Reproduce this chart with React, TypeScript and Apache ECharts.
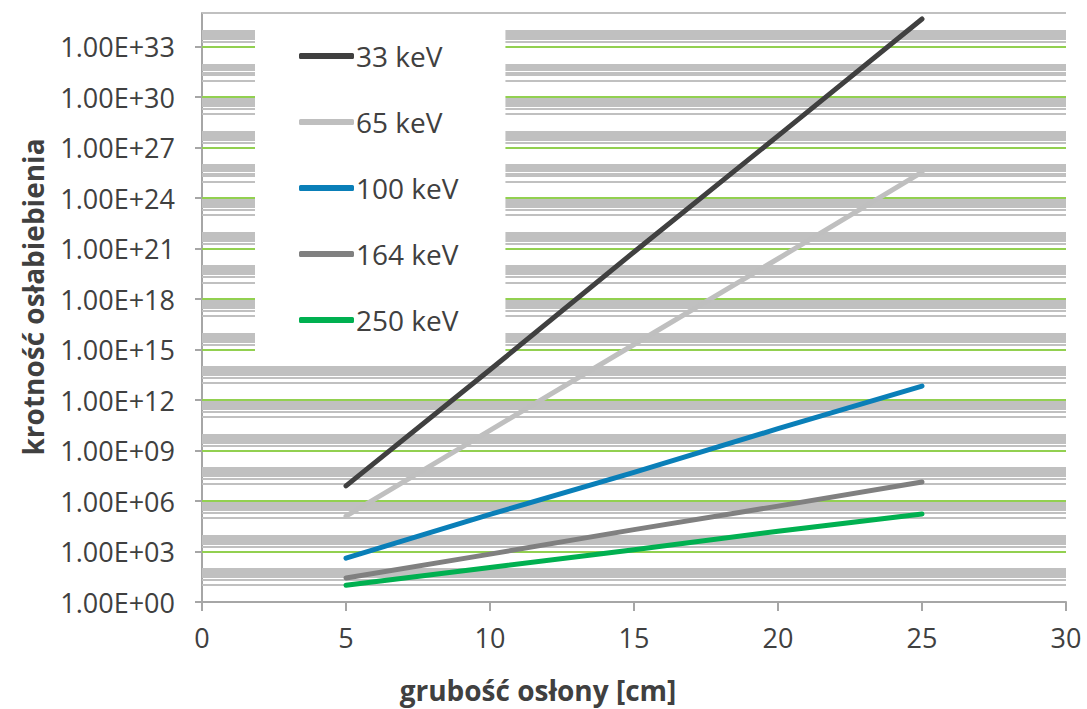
import React, { useEffect, useRef } from "react";
import * as echarts from "echarts";

// ---- data ----
const X_THICKNESS = [5, 10, 15, 20, 25];
const SERIES_NAMES = ["33 keV", "65 keV", "100 keV", "164 keV", "250 keV"];
const KEV_33 = [7.9e6, 6.3e13, 6.3e20, 5.0e27, 4.4e34];
const KEV_65 = [1.26e5, 1.6e10, 2.0e15, 2.5e20, 3.5e25];
const KEV_100 = [400, 1.6e5, 5.0e7, 2.0e10, 6.8e12];
const KEV_164 = [27, 700, 2.0e4, 5.0e5, 1.35e7];
const KEV_250 = [10, 112, 1.26e3, 1.6e4, 1.7e5];
const SERIES_VALUES = [KEV_33, KEV_65, KEV_100, KEV_164, KEV_250];
const SERIES_COLORS = ["#404040", "#bfbfbf", "#0a7fb8", "#808080", "#00b050"];

// axis / gridline definitions
const Y_MIN = 1;
const Y_MAX = 1e35;
const MAJOR_EXPONENTS = [0, 3, 6, 9, 12, 15, 18, 21, 24, 27, 30, 33];
const MINOR_EXPONENTS = [1, 3, 5, 7, 9, 11, 13, 15, 17, 19, 21, 23, 25, 27, 29, 31, 33, 35];
const MINOR_MULTIPLIERS = [1, 2, 3, 4, 5, 6, 7, 8, 9];

const FONT = "'Open Sans', 'Noto Sans', sans-serif";
const TEXT_COLOR = "#404040";
const AXIS_COLOR = "#a6a6a6";

export default function App() {
  const ref = useRef<HTMLDivElement>(null);

  useEffect(() => {
    if (!ref.current) return;
    const chart = echarts.init(ref.current, undefined, { renderer: "svg" });

    const minorLines: any[] = [];
    MINOR_EXPONENTS.forEach((e) => {
      MINOR_MULTIPLIERS.forEach((k) => {
        const v = k * Math.pow(10, e);
        if (v <= Y_MAX) minorLines.push({ yAxis: v });
      });
    });
    const majorLines = MAJOR_EXPONENTS.filter((e) => e > 0).map((e) => ({ yAxis: Math.pow(10, e) }));

    const dataSeries = SERIES_NAMES.map((name, i) => ({
      name,
      type: "line",
      z: 6,
      data: X_THICKNESS.map((x, j) => [x, SERIES_VALUES[i][j]]),
      showSymbol: false,
      symbol: "none",
      color: SERIES_COLORS[i],
      lineStyle: { width: 5, color: SERIES_COLORS[i], cap: "round", join: "round" },
      emphasis: { disabled: true },
    }));

    const option: any = {
      animation: false,
      grid: { left: 202, right: 21, top: 13, bottom: 107, containLabel: false },
      xAxis: {
        type: "value",
        min: 0,
        max: 30,
        interval: 5,
        splitLine: { show: false },
        axisLine: { show: true, lineStyle: { color: AXIS_COLOR, width: 2 } },
        axisTick: { show: true, inside: false, length: 9, lineStyle: { color: AXIS_COLOR, width: 2 } },
        axisLabel: { fontSize: 27, color: TEXT_COLOR, fontFamily: FONT, margin: 22 },
      },
      yAxis: {
        type: "log",
        logBase: 10,
        min: Y_MIN,
        max: Y_MAX,
        interval: 3,
        splitLine: { show: false },
        minorTick: { show: false },
        axisLine: { show: true, lineStyle: { color: AXIS_COLOR, width: 2 } },
        axisTick: { show: true, inside: false, length: 7, lineStyle: { color: AXIS_COLOR, width: 2 } },
        axisLabel: {
          fontSize: 27,
          color: TEXT_COLOR,
          fontFamily: FONT,
          margin: 27,
          showMaxLabel: false,
          formatter: (v: number) => {
            const e = Math.round(Math.log10(v));
            if (e % 3 !== 0 || e > 33) return "";
            return "1.00E+" + String(e).padStart(2, "0");
          },
        },
      },
      legend: {
        data: SERIES_NAMES,
        orient: "vertical",
        left: 255,
        top: 17,
        z: 10,
        backgroundColor: "#ffffff",
        padding: [25, 47, 20, 44],
        itemWidth: 55,
        itemHeight: 6,
        itemGap: 38,
        icon: "roundRect",
        selectedMode: false,
        textStyle: { fontSize: 28, color: TEXT_COLOR, fontFamily: FONT, lineHeight: 30, padding: [-4, 0, 0, -3] },
      },
      graphic: [
        {
          type: "text",
          x: 538,
          y: 690,
          style: {
            text: "grubość osłony [cm]",
            font: "bold 28px " + FONT,
            fill: TEXT_COLOR,
            textAlign: "center",
            textVerticalAlign: "middle",
          },
        },
        {
          type: "text",
          x: 33,
          y: 297,
          rotation: Math.PI / 2,
          style: {
            text: "krotność osłabiebienia",
            font: "bold 28px " + FONT,
            fill: TEXT_COLOR,
            textAlign: "center",
            textVerticalAlign: "middle",
          },
        },
      ],
      series: [
        {
          name: "minor-grid",
          type: "line",
          z: 1,
          data: [],
          silent: true,
          markLine: {
            z: 1,
            silent: true,
            symbol: ["none", "none"],
            label: { show: false },
            emphasis: { disabled: true },
            lineStyle: { type: "solid", color: "#c0c0c0", width: 2 },
            data: minorLines,
          },
        },
        {
          name: "major-grid",
          type: "line",
          z: 2,
          data: [],
          silent: true,
          markLine: {
            z: 2,
            silent: true,
            symbol: ["none", "none"],
            label: { show: false },
            emphasis: { disabled: true },
            lineStyle: { type: "solid", color: "#92d050", width: 2 },
            data: majorLines,
          },
        },
        ...dataSeries,
      ],
    };

    chart.setOption(option);
    return () => chart.dispose();
  }, []);

  return (
    <div
      ref={ref}
      style={{ position: "fixed", left: 0, top: 0, width: 1087, height: 709, background: "#ffffff" }}
    />
  );
}
